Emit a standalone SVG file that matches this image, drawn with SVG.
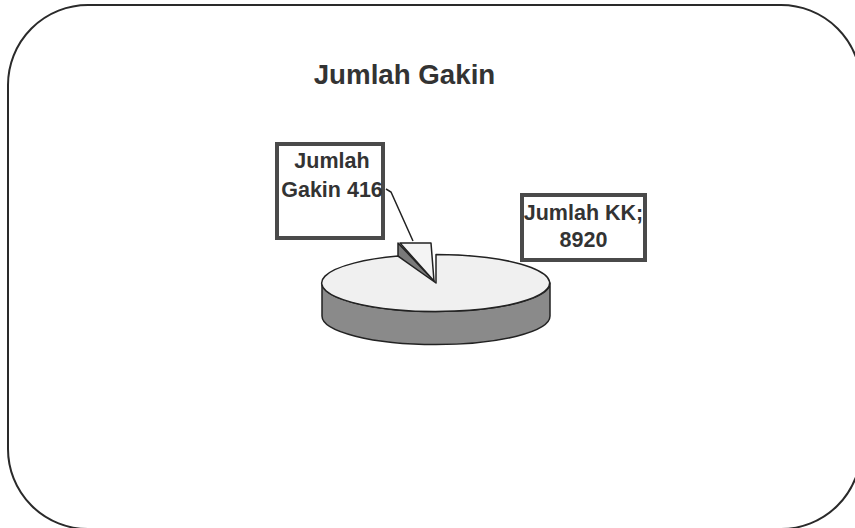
<svg xmlns="http://www.w3.org/2000/svg" width="855" height="528" viewBox="0 0 855 528">
  <style>
    .lbl { font-family: "Liberation Sans", Arial, sans-serif; font-weight: bold; fill: #333; }
    .box { fill: #fff; stroke: #4a4a4a; stroke-width: 4; }
    .edge { stroke: #222; stroke-width: 1.5; stroke-linejoin: round; }
  </style>
  <rect width="855" height="528" fill="#fff"/>
  <rect id="frame" x="8" y="5" width="853" height="524" rx="80" ry="80" fill="none" stroke="#2a2a2a" stroke-width="2"/>
  <text id="title" class="lbl" x="404.5" y="84" font-size="27.7" text-anchor="middle">Jumlah Gakin</text>

  <g id="slice-gakin">
    <path class="edge" d="M398 243 L434 281 L434 285 L398 256.1 Z" fill="#7a7a7a"/>
    <path class="edge" d="M400 243 L431 243 L434 281 Z" fill="#f4f4f4"/>
  </g>

  <g id="slice-kk">
    <path class="edge" d="M322 283 L322 316 A114 28.5 0 0 0 550 316 L550 283 A114 28.5 0 0 1 322 283 Z" fill="#8a8a8a"/>
    <path class="edge" d="M436 283 L436 254.5 A114 28.5 0 1 1 398 256.1 Z" fill="#f0f0f0"/>
  </g>

  <g id="connectors">
    <polyline points="386,189 391,192 413,241" fill="none" stroke="#222" stroke-width="1.5"/>
  </g>

  <g id="label-gakin">
    <rect class="box" x="277" y="144" width="106" height="94"/>
    <text class="lbl" x="332" y="168" font-size="21.5" text-anchor="middle">Jumlah</text>
    <text class="lbl" x="332" y="197" font-size="21.5" text-anchor="middle">Gakin 416</text>
  </g>

  <g id="label-kk">
    <rect class="box" x="522" y="195" width="123" height="65"/>
    <text class="lbl" x="583.5" y="220" font-size="21.5" text-anchor="middle">Jumlah KK;</text>
    <text class="lbl" x="583.5" y="247" font-size="21.5" text-anchor="middle">8920</text>
  </g>
</svg>
